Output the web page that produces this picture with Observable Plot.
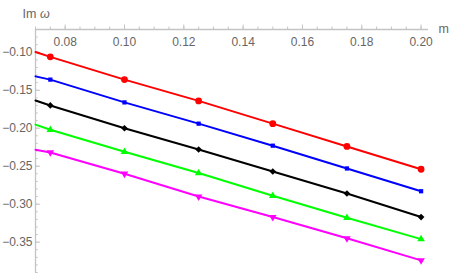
<!DOCTYPE html>
<html>
<head>
<meta charset="utf-8">
<script src="https://cdn.jsdelivr.net/npm/d3@7"></script>
<script src="https://cdn.jsdelivr.net/npm/@observablehq/plot@0.6"></script>
<style>
  html, body { margin: 0; padding: 0; background: #fff; }
  #chart svg { display: block; }
</style>
</head>
<body>
<div id="chart"></div>
<script>
// ---- data ----
const mValues = [0.075, 0.1, 0.125, 0.15, 0.175, 0.2];
const redSeries     = [-0.106, -0.136, -0.164, -0.194, -0.224, -0.254];
const blueSeries    = [-0.136, -0.166, -0.194, -0.223, -0.253, -0.283];
const blackSeries   = [-0.170, -0.200, -0.228, -0.257, -0.286, -0.317];
const greenSeries   = [-0.202, -0.231, -0.259, -0.289, -0.318, -0.346];
const magentaSeries = [-0.232, -0.260, -0.290, -0.317, -0.345, -0.374];
// fitted lines start at the left edge (m = 0.07)
const fitStartM = 0.07;
const fitStartValues = [-0.0996, -0.1317, -0.1635, -0.1952, -0.2283];

const xTicks = [0.08, 0.10, 0.12, 0.14, 0.16, 0.18, 0.20];
const xTickLabels = ["0.08", "0.10", "0.12", "0.14", "0.16", "0.18", "0.20"];
const yTicks = [-0.10, -0.15, -0.20, -0.25, -0.30, -0.35];
const yTickLabels = ["\u22120.10", "\u22120.15", "\u22120.20", "\u22120.25", "\u22120.30", "\u22120.35"];
const xMinorTicks = d3.range(14, 41).map(i => i * 0.005);
const yMinorTicks = d3.range(7, 40).map(i => -i * 0.01);

// ---- layout ----
const W = 450, H = 275;
const mt = 29, mb = 3, ml = 35, mr = 22;
const xDomain = [0.07, 0.2025];
const yDomain = [-0.39, -0.07];
const yPerPx = (yDomain[1] - yDomain[0]) / (H - mt - mb);
const xPerPx = (xDomain[1] - xDomain[0]) / (W - ml - mr);
const x0 = xDomain[0], y0 = yDomain[1];

const downTriangle = {
  draw(context, size) {
    const a = Math.sqrt(4 * size / Math.sqrt(3));
    const h = a * Math.sqrt(3) / 2;
    context.moveTo(0, 2 * h / 3);
    context.lineTo(-a / 2, -h / 3);
    context.lineTo(a / 2, -h / 3);
    context.closePath();
  }
};

const series = [
  {values: redSeries, color: "#ff0000", symbol: "circle", r: 3.4},
  {values: blueSeries, color: "#0000ff", symbol: "square", r: 2.4},
  {values: blackSeries, color: "#000000", symbol: "diamond2", r: 3.0},
  {values: greenSeries, color: "#00ff00", symbol: "triangle", r: 2.8},
  {values: magentaSeries, color: "#ff00ff", symbol: downTriangle, r: 2.8}
];

const axisColor = "#c4c4c4";
const textColor = "#666666";
const font = "Liberation Sans, Arial, Helvetica, sans-serif";

const marks = [
  // axis lines
  Plot.ruleY([y0], {x1: xDomain[0], x2: xDomain[1], stroke: axisColor, strokeWidth: 1.3}),
  Plot.ruleX([x0], {y1: yDomain[0], y2: yDomain[1], stroke: axisColor, strokeWidth: 1.3}),
  // x ticks (pointing up)
  Plot.ruleX(xMinorTicks, {x: d => d, y1: y0, y2: y0 + 2.5 * yPerPx, stroke: axisColor}),
  Plot.ruleX(xTicks, {x: d => d, y1: y0, y2: y0 + 4.5 * yPerPx, stroke: axisColor}),
  // y ticks (pointing right)
  Plot.ruleY(yMinorTicks, {y: d => d, x1: x0, x2: x0 + 2.7 * xPerPx, stroke: axisColor}),
  Plot.ruleY(yTicks, {y: d => d, x1: x0, x2: x0 + 5 * xPerPx, stroke: axisColor}),
  // tick labels
  Plot.text(xTicks, {x: d => d, y: y0, text: (d, i) => xTickLabels[i], dy: 13, fill: textColor, fontSize: 12, fontFamily: font}),
  Plot.text(yTicks, {x: x0, y: d => d, text: (d, i) => yTickLabels[i], dx: -3, textAnchor: "end", fill: textColor, fontSize: 12, fontFamily: font}),
  // axis labels
  Plot.text(["Im"], {x: x0, y: y0, text: d => d, dx: -13, dy: -16, textAnchor: "start", fill: textColor, fontSize: 12.5, fontFamily: font}),
  Plot.text(["\u03c9"], {x: x0, y: y0, text: d => d, dx: 4.5, dy: -16, textAnchor: "start", fill: textColor, fontSize: 12.5, fontStyle: "italic", fontFamily: font}),
  Plot.text(["m"], {x: xDomain[1], y: y0, text: d => d, dx: 10, dy: -1, textAnchor: "start", fill: textColor, fontSize: 12.5, fontFamily: font})
];

series.forEach((s, k) => {
  const pts = mValues.map((m, i) => ({m, v: s.values[i]}));
  const lineData = [{m: fitStartM, v: fitStartValues[k]}, ...pts];
  marks.push(Plot.line(lineData, {x: "m", y: "v", stroke: s.color, strokeWidth: 2}));
  marks.push(Plot.dot(pts, {x: "m", y: "v", symbol: () => s.symbol, fill: s.color, r: s.r, stroke: "none"}));
});

const chart = Plot.plot({
  width: W,
  height: H,
  marginTop: mt,
  marginBottom: mb,
  marginLeft: ml,
  marginRight: mr,
  x: {domain: xDomain, axis: null},
  y: {domain: yDomain, axis: null},
  symbol: {type: "identity"},
  style: {background: "#fff", fontFamily: font},
  marks
});
document.getElementById("chart").appendChild(chart);
</script>
</body>
</html>
